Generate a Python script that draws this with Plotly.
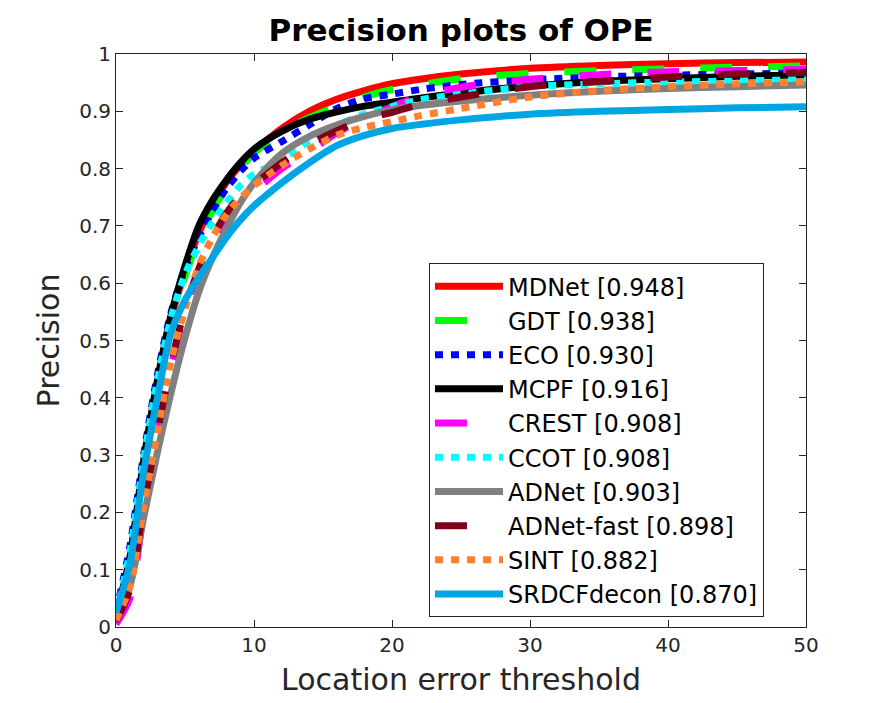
import plotly.graph_objects as go

# location error thresholds (pixels)
thresholds = [0, 1, 2, 3, 4, 5, 6, 7, 8, 9, 10, 12, 14, 16, 18, 20, 22, 25, 30, 35, 40, 45, 50]

trackers = ["MDNet", "GDT", "ECO", "MCPF", "CREST", "CCOT", "ADNet", "ADNet-fast", "SINT", "SRDCFdecon"]
scores = ["0.948", "0.938", "0.930", "0.916", "0.908", "0.908", "0.903", "0.898", "0.882", "0.870"]

mdnet = [0.02, 0.12, 0.28, 0.425, 0.54, 0.62, 0.688, 0.737, 0.776, 0.806, 0.83, 0.87, 0.90, 0.921, 0.936, 0.948, 0.956, 0.965, 0.975, 0.980, 0.983, 0.985, 0.986]
gdt = [0.02, 0.11, 0.27, 0.415, 0.53, 0.612, 0.678, 0.727, 0.767, 0.80, 0.827, 0.864, 0.889, 0.908, 0.925, 0.938, 0.946, 0.957, 0.966, 0.971, 0.974, 0.977, 0.979]
eco = [0.025, 0.14, 0.30, 0.44, 0.55, 0.625, 0.68, 0.727, 0.765, 0.795, 0.818, 0.847, 0.876, 0.905, 0.922, 0.930, 0.938, 0.947, 0.955, 0.960, 0.963, 0.965, 0.967]
mcpf = [0.02, 0.12, 0.29, 0.43, 0.545, 0.63, 0.70, 0.745, 0.78, 0.81, 0.834, 0.865, 0.886, 0.899, 0.909, 0.916, 0.923, 0.932, 0.944, 0.952, 0.957, 0.961, 0.964]
crest = [0.005, 0.05, 0.20, 0.335, 0.455, 0.55, 0.62, 0.672, 0.71, 0.74, 0.76, 0.80, 0.83, 0.862, 0.888, 0.908, 0.926, 0.942, 0.956, 0.964, 0.969, 0.971, 0.973]
ccot = [0.02, 0.13, 0.29, 0.43, 0.54, 0.615, 0.665, 0.707, 0.74, 0.77, 0.79, 0.815, 0.848, 0.875, 0.895, 0.908, 0.92, 0.93, 0.943, 0.948, 0.951, 0.953, 0.955]
adnet = [0.01, 0.07, 0.19, 0.305, 0.41, 0.505, 0.585, 0.645, 0.695, 0.74, 0.775, 0.826, 0.856, 0.876, 0.891, 0.903, 0.91, 0.918, 0.928, 0.935, 0.94, 0.943, 0.946]
adnet_fast = [0.01, 0.065, 0.21, 0.34, 0.46, 0.555, 0.625, 0.68, 0.722, 0.752, 0.772, 0.81, 0.842, 0.866, 0.886, 0.898, 0.912, 0.925, 0.943, 0.952, 0.96, 0.965, 0.968]
sint = [0.012, 0.07, 0.21, 0.34, 0.465, 0.555, 0.63, 0.68, 0.72, 0.748, 0.77, 0.805, 0.834, 0.858, 0.872, 0.882, 0.892, 0.905, 0.925, 0.936, 0.943, 0.948, 0.951]
srdcf = [0.025, 0.11, 0.27, 0.40, 0.515, 0.57, 0.61, 0.645, 0.68, 0.71, 0.735, 0.775, 0.81, 0.84, 0.858, 0.870, 0.877, 0.885, 0.895, 0.90, 0.903, 0.906, 0.908]

curves = [mdnet, gdt, eco, mcpf, crest, ccot, adnet, adnet_fast, sint, srdcf]
colors = ["#FF0000", "#00FF00", "#0000FF", "#000000", "#FF00FF", "#00FFFF", "#808080", "#80001A", "#FF8030", "#00A6E4"]
dashes = ["solid", "32px,36px", "8px,8px", "solid", "32px,36px", "8px,8px", "solid", "32px,36px", "8px,8px", "solid"]

fig = go.Figure()
for name, sc, ys, col, d in zip(trackers, scores, curves, colors, dashes):
    fig.add_trace(go.Scatter(
        x=thresholds, y=ys, mode="lines", name=name + " [" + sc + "]",
        line=dict(color=col, width=7, dash=d, shape="spline", smoothing=0.8),
    ))

axis_style = dict(
    showline=True, linecolor="#262626", linewidth=1, mirror="ticks",
    ticks="inside", ticklen=7, tickcolor="#262626",
    showgrid=False, zeroline=False,
    tickfont=dict(family="DejaVu Sans", size=20, color="#262626"),
)

fig.update_layout(
    width=891, height=703,
    margin=dict(l=116, r=85, t=54, b=76),
    paper_bgcolor="white", plot_bgcolor="white",
    title=dict(text="<b>Precision plots of OPE</b>", x=0.5175, xanchor="center",
               y=1 - 30 / 703, yanchor="middle",
               font=dict(family="DejaVu Sans", size=31, color="black")),
    font=dict(family="DejaVu Sans", color="#262626"),
    legend=dict(x=0.4536, y=0.635, xanchor="left", yanchor="top",
                bgcolor="white", bordercolor="#262626", borderwidth=1,
                font=dict(family="DejaVu Sans", size=24, color="black"),
                itemwidth=68, tracegroupgap=0),
)
fig.update_xaxes(range=[0, 50], dtick=10, **axis_style,
                 title=dict(text="Location error threshold", standoff=12,
                            font=dict(family="DejaVu Sans", size=30, color="#262626")))
fig.update_yaxes(range=[0, 1], tickvals=[i / 10 for i in range(11)],
                 ticktext=["0", "0.1", "0.2", "0.3", "0.4", "0.5", "0.6", "0.7", "0.8", "0.9", "1"],
                 **axis_style,
                 title=dict(text="Precision", standoff=10,
                            font=dict(family="DejaVu Sans", size=30, color="#262626")))

# the page body has an 8px default margin; drop it so the figure sits at the window corner
fig.write_html("out.html", config={"displayModeBar": False},
               post_script="document.body.style.margin='0px';")
